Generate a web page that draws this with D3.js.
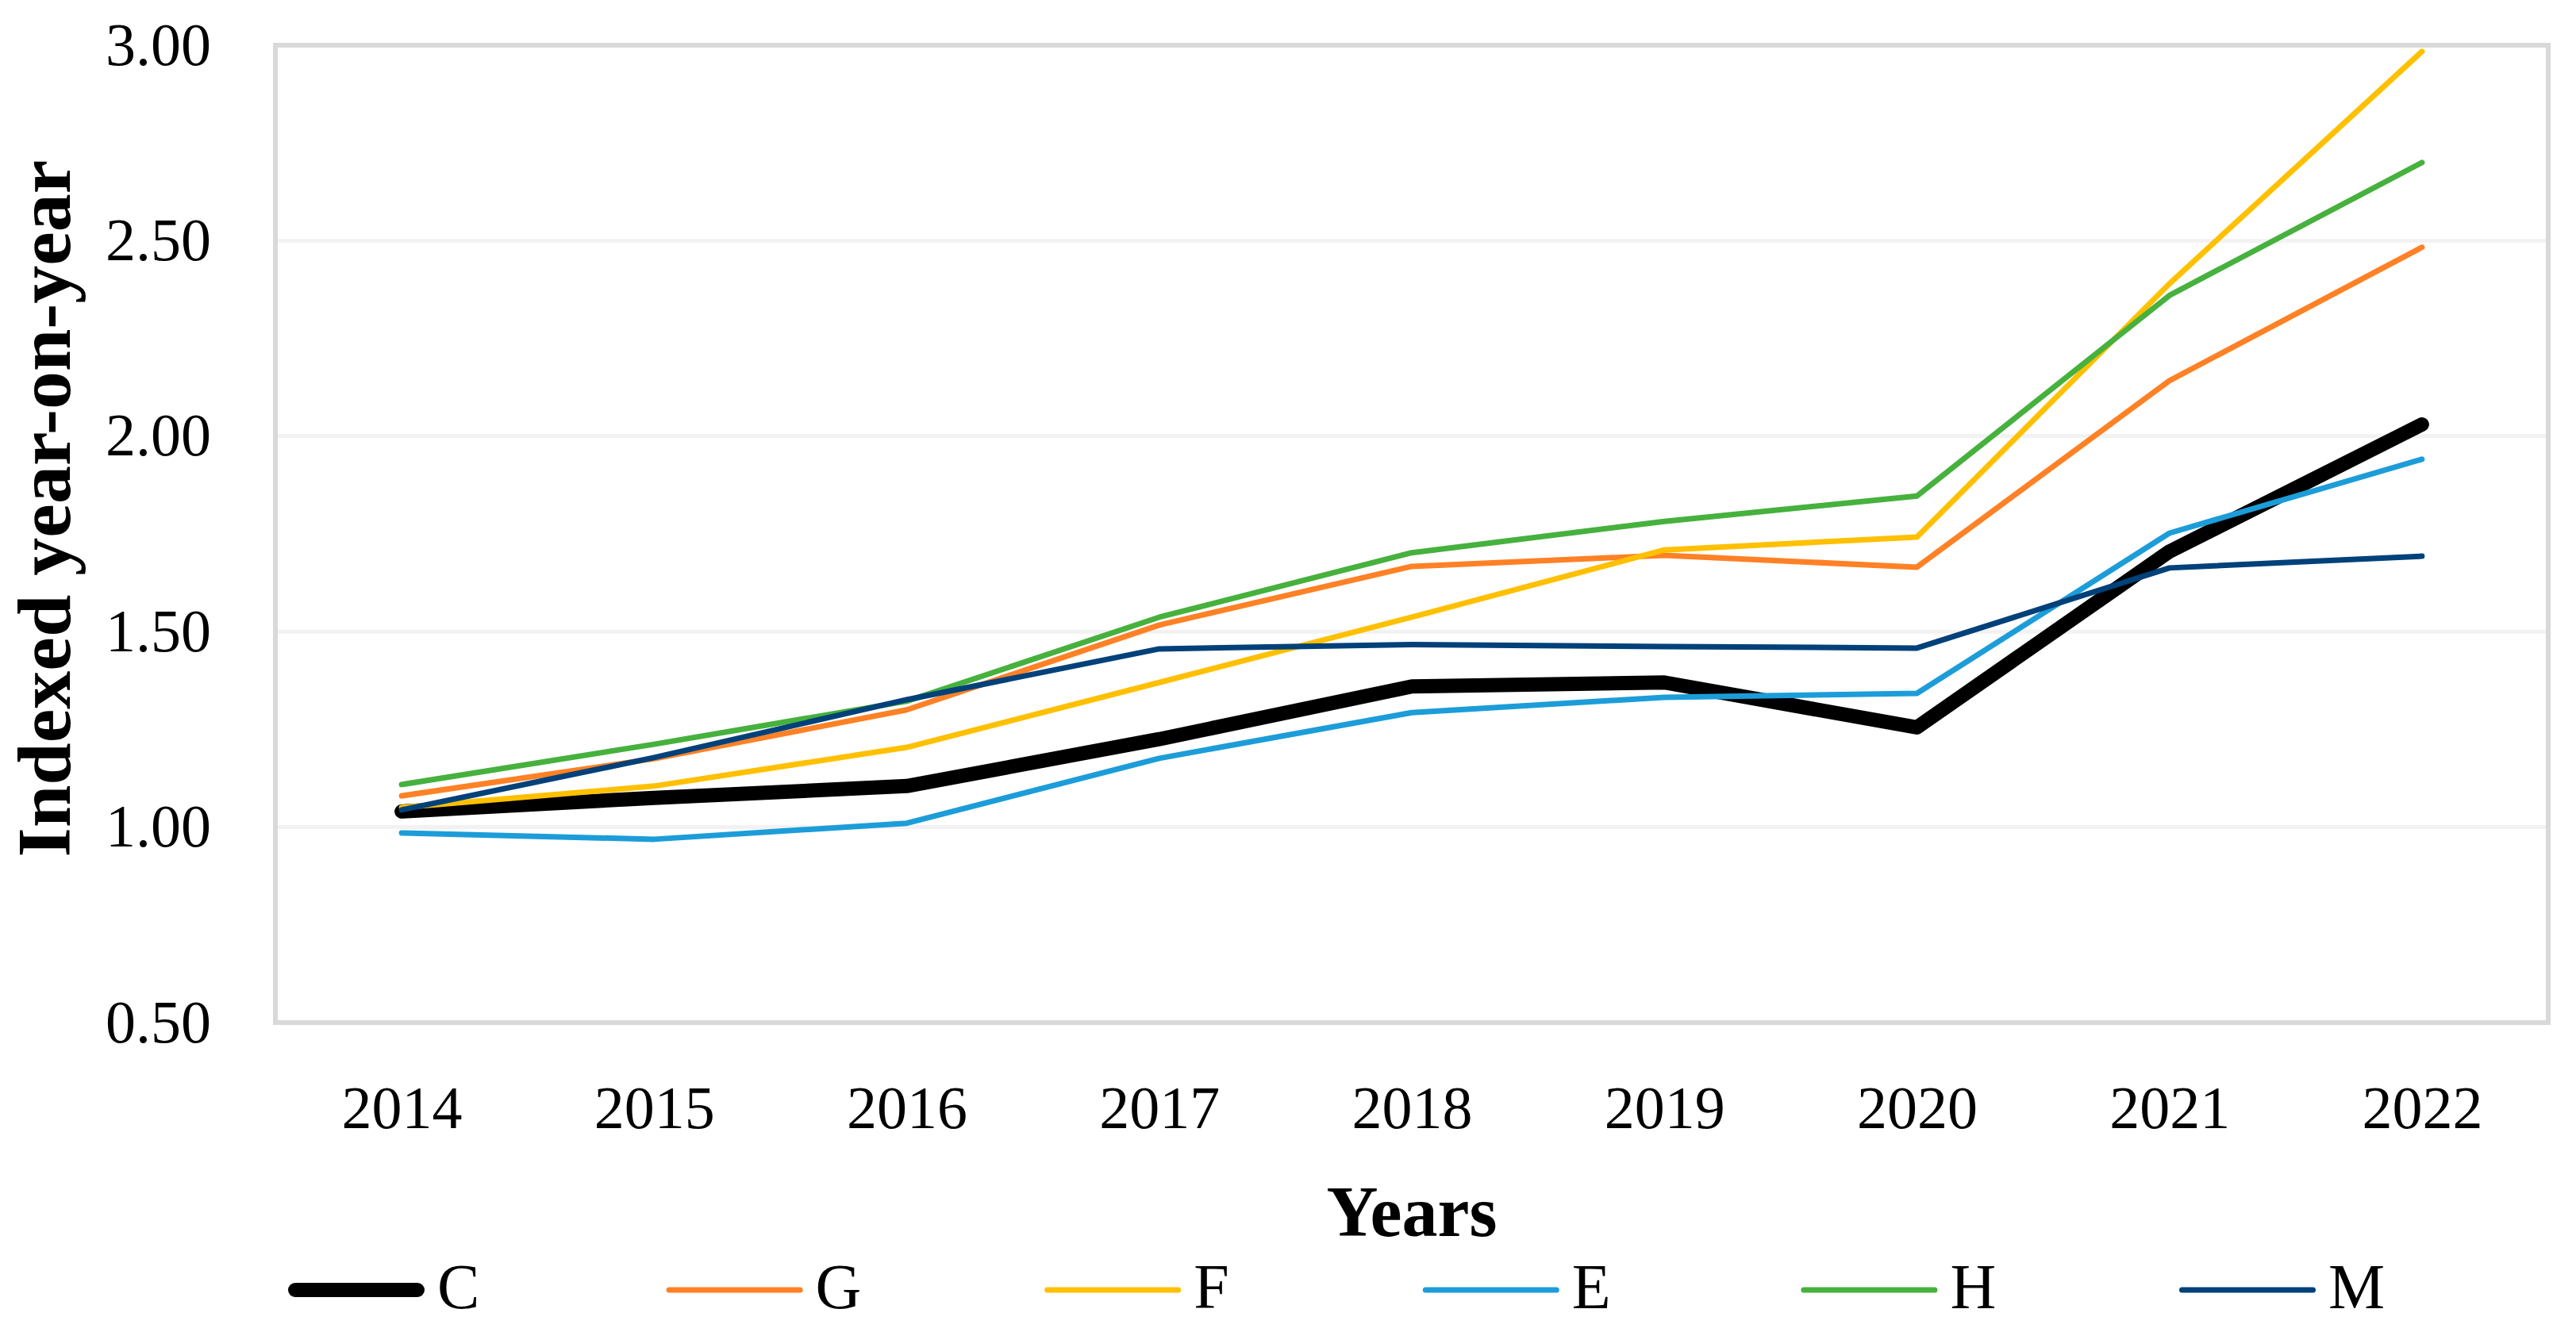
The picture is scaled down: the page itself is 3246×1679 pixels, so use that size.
<!DOCTYPE html>
<html>
<head>
<meta charset="utf-8">
<script src="https://cdn.jsdelivr.net/npm/d3@7"></script>
<style>
	body { margin: 0; background: #fff; }
	svg { display: block; }
	text { font-family: 'Palatino Linotype', 'Book Antiqua', Palatino, 'Liberation Serif', serif; fill: #000; }
</style>
</head>
<body>
<svg class="chart"></svg>
<script>

// data
const years = ['2014', '2015', '2016', '2017', '2018', '2019', '2020', '2021', '2022']
const yTicks = [0.5, 1.0, 1.5, 2.0, 2.5, 3.0]

const valuesC = [1.04, 1.075, 1.105, 1.225, 1.36, 1.37, 1.255, 1.705, 2.03]
const valuesG = [1.08, 1.175, 1.30, 1.517, 1.667, 1.695, 1.665, 2.142, 2.483]
const valuesF = [1.05, 1.105, 1.204, 1.37, 1.537, 1.709, 1.742, 2.39, 2.984]
const valuesE = [0.985, 0.969, 1.01, 1.176, 1.293, 1.332, 1.342, 1.752, 1.941]
const valuesH = [1.109, 1.212, 1.322, 1.537, 1.702, 1.782, 1.847, 2.36, 2.70]
const valuesM = [1.044, 1.178, 1.326, 1.456, 1.467, 1.462, 1.458, 1.663, 1.693]

const series = [
	{ name: 'C', values: valuesC, color: '#000000', width: 18 },
	{ name: 'G', values: valuesG, color: '#ff8125', width: 7 },
	{ name: 'F', values: valuesF, color: '#ffc000', width: 7 },
	{ name: 'E', values: valuesE, color: '#1c9dd9', width: 7 },
	{ name: 'H', values: valuesH, color: '#46b13d', width: 7 },
	{ name: 'M', values: valuesM, color: '#00417a', width: 7 },
]

// hardcode the chart to the picture size
const outerWidth = 3246
const outerHeight = 1679
const margin = { top: 57, right: 35, bottom: 390, left: 347 }
const width = outerWidth - margin.left - margin.right
const height = outerHeight - margin.top - margin.bottom

const svg = d3.select('svg.chart')
	.attr('width', outerWidth)
	.attr('height', outerHeight)
.append('g')
	.attr('transform', `translate(${margin.left}, ${margin.top})`)

// scales
const x = d3.scalePoint()
	.domain(years)
	.range([0, width])
	.padding(0.5)

const y = d3.scaleLinear()
	.domain([0.5, 3.0])
	.range([height, 0])

// gridlines
svg.append('g')
	.attr('class', 'grid')
	.selectAll('line')
	.data(yTicks)
	.join('line')
		.attr('x1', 0)
		.attr('x2', width)
		.attr('y1', d => y(d))
		.attr('y2', d => y(d))
		.attr('stroke', '#f2f2f2')
		.attr('stroke-width', 5)

// plot area border
svg.append('rect')
	.attr('width', width)
	.attr('height', height)
	.attr('fill', 'none')
	.attr('stroke', '#d9d9d9')
	.attr('stroke-width', 6)

// y axis labels
const yAxis = svg.append('g')
	.attr('class', 'axis axis--y')
	.attr('transform', 'translate(-81, 0)')
	.call(d3.axisLeft(y)
		.tickValues(yTicks)
		.tickFormat(d3.format('.2f'))
		.tickSize(0)
		.tickPadding(0)
	)
yAxis.select('.domain').remove()
yAxis.selectAll('text')
	.attr('dy', null)
	.attr('y', 24)
	.style('font-size', '76px')
	.style('font-family', null)

// x axis labels
const xAxis = svg.append('g')
	.attr('class', 'axis axis--x')
	.attr('transform', `translate(0, ${height})`)
	.call(d3.axisBottom(x)
		.tickSize(0)
		.tickPadding(0)
	)
xAxis.select('.domain').remove()
xAxis.selectAll('text')
	.attr('dy', null)
	.attr('y', 133)
	.style('font-size', '76px')
	.style('font-family', null)

// axis titles
svg.append('text')
	.attr('class', 'axis-title')
	.attr('x', width / 2)
	.attr('y', 1558 - margin.top)
	.style('text-anchor', 'middle')
	.style('font-size', '90px')
	.style('font-weight', 'bold')
	.text('Years')

svg.append('text')
	.attr('class', 'axis-title')
	.attr('transform', `translate(${88 - margin.left}, ${641 - margin.top}) rotate(-90)`)
	.style('text-anchor', 'middle')
	.style('font-size', '96px')
	.style('font-weight', 'bold')
	.text('Indexed year-on-year')

// lines
const line = d3.line()
	.x((d, i) => x(years[i]))
	.y(d => y(d))

svg.append('g')
	.attr('class', 'lines')
	.selectAll('path')
	.data(series)
	.join('path')
		.attr('d', d => line(d.values))
		.attr('fill', 'none')
		.attr('stroke', d => d.color)
		.attr('stroke-width', d => d.width)
		.attr('stroke-linejoin', 'round')
		.attr('stroke-linecap', 'round')

// legend
const legendY = 1626 - margin.top
const legend = svg.append('g')
	.attr('class', 'legend')
	.selectAll('g')
	.data(series)
	.join('g')
		.attr('transform', (d, i) => `translate(${363 - margin.left + i * 476.6}, ${legendY})`)

legend.append('line')
	.attr('x1', d => d.width / 2)
	.attr('x2', d => 172 - d.width / 2)
	.attr('stroke', d => d.color)
	.attr('stroke-width', d => d.width)
	.attr('stroke-linecap', 'round')

legend.append('text')
	.attr('x', 188)
	.attr('y', 23)
	.style('font-size', '80px')
	.text(d => d.name)

</script>
</body>
</html>
